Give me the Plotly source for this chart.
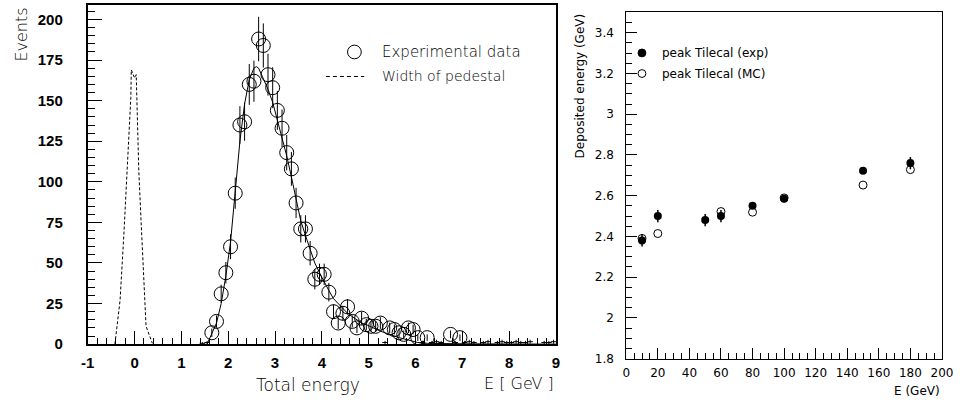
import plotly.graph_objects as go

# ---------------- Left panel data ----------------
exp_x = [1.65, 1.75, 1.85, 1.95, 2.05, 2.15, 2.25, 2.35, 2.45, 2.55, 2.65, 2.75, 2.85, 2.95,
         3.05, 3.15, 3.25, 3.35, 3.45, 3.55, 3.65, 3.75, 3.85, 3.95, 4.05, 4.15, 4.25, 4.35,
         4.45, 4.55, 4.65, 4.75, 4.85, 4.95, 5.05, 5.15, 5.25, 5.45, 5.55, 5.65, 5.75, 5.85,
         5.95, 6.05, 6.25, 6.75, 6.95]
exp_y = [7, 14, 31, 44, 60, 93, 135, 137, 160, 162, 188, 184, 166, 158,
         144, 133, 118, 108, 87, 71, 71, 56, 40, 43, 43, 32, 20, 13,
         19, 23, 14, 10, 16, 12, 11, 11, 13, 10, 9, 7, 6, 10,
         9, 4, 4, 6, 4]
exp_err = [2.6, 3.7, 5.6, 6.6, 7.7, 9.6, 11.6, 11.7, 12.6, 12.7, 13.7, 13.6, 12.9, 12.6,
           12.0, 11.5, 10.9, 10.4, 9.3, 8.4, 8.4, 7.5, 6.3, 6.6, 6.6, 5.7, 4.5, 3.6,
           4.4, 4.8, 3.7, 3.2, 4.0, 3.5, 3.3, 3.3, 3.6, 3.2, 3.0, 2.6, 2.4, 3.2,
           3.0, 2.0, 2.0, 2.4, 2.0]

# small-content bins (error bars only)
low_x = [1.45, 1.55, 5.35, 6.15, 6.35, 6.45, 6.55, 6.85, 7.05, 7.15, 7.25, 7.45, 7.55,
         7.75, 7.85, 7.95, 8.05, 8.15, 8.25, 8.35, 8.45, 8.75, 8.85, 8.95]
low_y = [0.5, 1, 1, 1, 1, 1.5, 1, 1, 1, 1.5, 1, 1, 1.5,
         1, 1.5, 1, 1, 1.5, 1, 1, 1.5, 1, 1, 1.5]
low_err = [0.7, 1, 1, 1, 1, 1.2, 1, 1, 1, 1.2, 1, 1, 1.2,
           1, 1.2, 1, 1, 1.2, 1, 1, 1.2, 1, 1, 1.2]

# fit curve
fit_x = [1.55, 1.65, 1.75, 1.85, 1.95, 2.05, 2.15, 2.25, 2.35, 2.45, 2.55, 2.6, 2.65, 2.75,
         2.85, 2.95, 3.05, 3.15, 3.25, 3.35, 3.45, 3.55, 3.65, 3.75, 3.85, 3.95, 4.05, 4.15,
         4.25, 4.35, 4.45, 4.55, 4.65, 4.75, 4.85, 4.95, 5.05, 5.25, 5.45, 5.65, 5.85, 6.05,
         6.25, 6.5, 7.0, 8.0, 9.0]
fit_y = [0, 6, 13, 25, 42, 63, 93, 125, 148, 163, 170, 171, 170, 164,
         157, 149, 138, 126, 116, 103, 90, 76, 67, 58, 50, 44, 38, 33,
         28, 25, 22, 19, 17, 15, 13, 12, 10.5, 8, 6, 4, 2.5, 1,
         0.5, 0.3, 0.2, 0.1, 0]

# pedestal width (dashed)
ped_x = [-0.42, -0.38, -0.31, -0.23, -0.14, -0.08, -0.07, -0.035, 0.0, 0.035, 0.056,
         0.09, 0.14, 0.18, 0.245, 0.38]
ped_y = [0, 11, 27, 67, 123, 152, 169, 166, 164, 166, 140,
         107, 75, 51, 11, 0.5]

left_xticks = [-1, 0, 1, 2, 3, 4, 5, 6, 7, 8, 9]
left_xticklabels = ["-1", "0", "1", "2", "3", "4", "5", "6", "7", "8", "9"]

# ---------------- Right panel data ----------------
beam_E = [10, 20, 50, 60, 80, 100, 150, 180]
peak_exp = [2.38, 2.50, 2.48, 2.50, 2.55, 2.585, 2.722, 2.76]
peak_exp_err = [0.03, 0.03, 0.03, 0.03, 0.012, 0.012, 0.012, 0.03]
mc_E = [10, 20, 60, 80, 100, 150, 180]
peak_mc = [2.39, 2.414, 2.522, 2.519, 2.589, 2.652, 2.728]

W, H = 967, 409
THIN = "DejaVu Sans"

def px_x(p):
    return p / W

def px_y(p):
    return 1 - p / H

fig = go.Figure()

fig.add_trace(go.Scatter(x=ped_x, y=ped_y, mode="lines",
                         line=dict(color="black", width=1, dash="3px,2px"),
                         xaxis="x", yaxis="y", showlegend=False))
fig.add_trace(go.Scatter(x=fit_x, y=fit_y, mode="lines",
                         line=dict(color="black", width=1),
                         xaxis="x", yaxis="y", showlegend=False))
fig.add_trace(go.Scatter(x=low_x, y=low_y, mode="markers",
                         marker=dict(symbol="line-ew", size=4, line=dict(width=1, color="black")),
                         error_y=dict(type="data", array=low_err, width=0, thickness=1, color="black"),
                         xaxis="x", yaxis="y", showlegend=False))
fig.add_trace(go.Scatter(x=exp_x, y=exp_y, mode="markers",
                         marker=dict(symbol="circle-open", size=14, color="black",
                                     line=dict(width=1, color="black")),
                         error_y=dict(type="data", array=exp_err, width=0, thickness=1, color="black"),
                         xaxis="x", yaxis="y", showlegend=False))

fig.add_trace(go.Scatter(x=beam_E, y=peak_exp, mode="markers",
                         marker=dict(symbol="circle", size=8, color="black"),
                         error_y=dict(type="data", array=peak_exp_err, width=0, thickness=1.5, color="black"),
                         xaxis="x2", yaxis="y2", showlegend=False))
fig.add_trace(go.Scatter(x=mc_E, y=peak_mc, mode="markers",
                         marker=dict(symbol="circle-open", size=8, color="black",
                                     line=dict(width=1, color="black")),
                         xaxis="x2", yaxis="y2", showlegend=False))

bold = dict(family="Liberation Sans, Arial", size=15, color="black", weight="bold")
thin_tick = dict(family=THIN, size=12, color="black", weight="normal")

fig.update_layout(
    width=W, height=H,
    margin=dict(l=0, r=0, t=0, b=0),
    paper_bgcolor="white", plot_bgcolor="white",
    xaxis=dict(domain=[px_x(82.3), px_x(559.3)], anchor="y", range=[-1, 9],
               tickmode="array", tickvals=left_xticks, ticktext=left_xticklabels,
               ticks="inside", ticklen=13, tickwidth=1, tickcolor="black",
               minor=dict(dtick=0.2, tick0=-1, ticks="inside", ticklen=6, tickcolor="black", tickwidth=1),
               showline=True, linecolor="black", linewidth=2, mirror=True,
               showgrid=False, zeroline=False, tickfont=bold, ticklabelstandoff=4),
    yaxis=dict(domain=[px_y(351), px_y(5)], anchor="x", range=[0, 209],
               tickmode="linear", tick0=0, dtick=25, ticks="inside", ticklen=14,
               tickwidth=1, tickcolor="black",
               minor=dict(dtick=5, ticks="inside", ticklen=7, tickcolor="black", tickwidth=1),
               showline=True, linecolor="black", linewidth=2, mirror=True,
               showgrid=False, zeroline=False, tickfont=bold, ticklabelstandoff=20),
    xaxis2=dict(domain=[px_x(631), px_x(952.7)], anchor="y2", range=[0, 200],
                tickmode="linear", tick0=0, dtick=20, ticks="inside", ticklen=11,
                tickwidth=1, tickcolor="black",
                minor=dict(dtick=5, ticks="inside", ticklen=6, tickcolor="black", tickwidth=1),
                showline=True, linecolor="black", linewidth=1, mirror=True,
                showgrid=False, zeroline=False, tickfont=thin_tick, ticklabelstandoff=3),
    yaxis2=dict(domain=[px_y(365.7), px_y(12.7)], anchor="x2", range=[1.8, 3.5],
                tickmode="linear", tick0=1.8, dtick=0.2, ticks="inside", ticklen=11,
                tickwidth=1, tickcolor="black",
                minor=dict(dtick=0.05, ticks="inside", ticklen=6, tickcolor="black", tickwidth=1),
                showline=True, linecolor="black", linewidth=1, mirror=True,
                showgrid=False, zeroline=False, tickfont=thin_tick, ticklabelstandoff=9),
)

def ann(text, x, y, size, xanchor="center", yanchor="middle", angle=0, weight=200):
    fig.add_annotation(text=text, x=px_x(x), y=px_y(y), xref="paper", yref="paper",
                       xanchor=xanchor, yanchor=yanchor, textangle=angle, showarrow=False,
                       borderpad=0,
                       font=dict(family=THIN, size=size, color="black", weight=weight))

# left axis titles
ann("Events", 15, 7, 16, xanchor="center", yanchor="top", angle=-90)
ann("Total energy", 307, 393, 17)
ann("E [ GeV ]", 558, 391, 16, xanchor="right")
# left legend
fig.add_shape(type="circle", xref="paper", yref="paper",
              x0=px_x(347), x1=px_x(361), y0=px_y(60), y1=px_y(46),
              line=dict(color="black", width=1))
ann("Experimental data", 381, 53, 15, xanchor="left")
fig.add_shape(type="line", xref="paper", yref="paper",
              x0=px_x(325), x1=px_x(364), y0=px_y(78), y1=px_y(78),
              line=dict(color="black", width=1, dash="4px,3px"))
ann("Width of pedestal", 381, 78, 14, xanchor="left")

# right axis titles
ann("Deposited energy (GeV)", 584, 13, 12, xanchor="center", yanchor="top", angle=-90, weight="normal")
ann("E (GeV)", 952, 399, 12, xanchor="right", weight="normal")
# right legend
fig.add_shape(type="circle", xref="paper", yref="paper",
              x0=px_x(643), x1=px_x(651), y0=px_y(58), y1=px_y(50),
              fillcolor="black", line=dict(color="black", width=1))
ann("peak Tilecal (exp)", 666, 54, 12, xanchor="left", weight="normal")
fig.add_shape(type="circle", xref="paper", yref="paper",
              x0=px_x(643), x1=px_x(651), y0=px_y(79), y1=px_y(71),
              line=dict(color="black", width=1))
ann("peak Tilecal (MC)", 666, 75, 12, xanchor="left", weight="normal")

fig.write_html("out.html")
